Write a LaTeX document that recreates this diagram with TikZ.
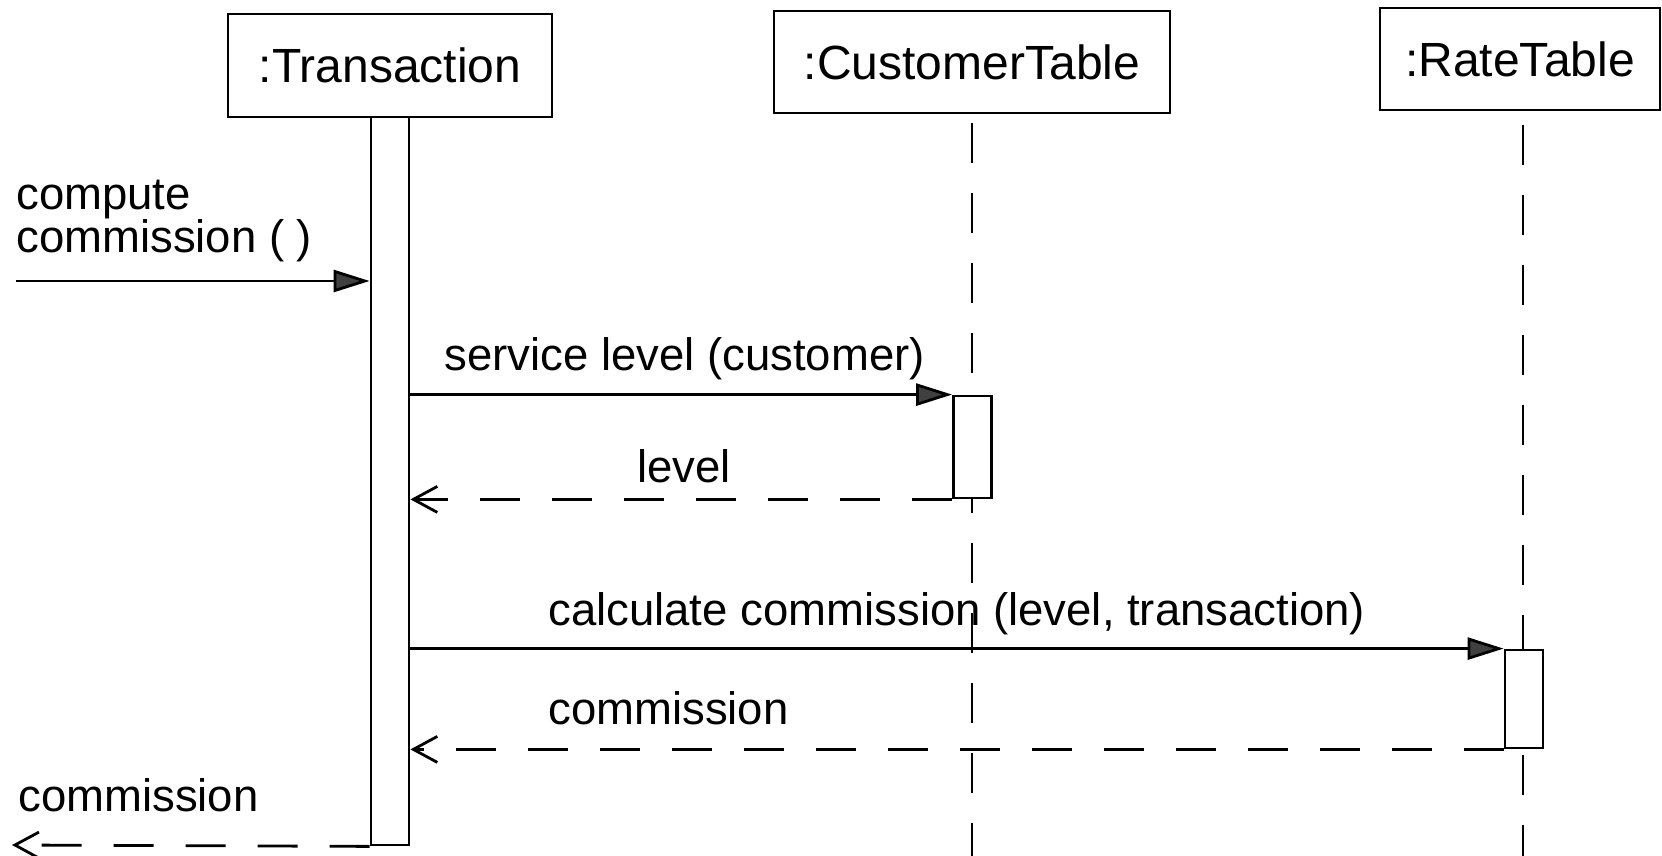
\documentclass[tikz,border=0pt]{standalone}
\usepackage{fontspec}
\setmainfont{Liberation Sans}
\usetikzlibrary{arrows.meta}
\begin{document}
\begin{tikzpicture}[x=0.5pt,y=-0.5pt,
  line width=1.4pt,
  actor/.style={draw, fill=white, inner sep=0pt, font=\fontsize{24}{28}\selectfont},
  actbar/.style={draw, fill=white, inner sep=0pt, minimum width=19pt},
  call/.style={-{Triangle[length=18pt,width=11pt,fill=black!75]}},
  ret/.style={-{Straight Barb[length=12pt,width=13pt]}, dash pattern=on 20pt off 16pt},
  lifeline/.style={dash pattern=on 20pt off 15pt},
  lbl/.style={inner sep=0pt, anchor=base west, font=\fontsize{22.75}{26}\selectfont}]
\path[use as bounding box, fill=white] (0,0) rectangle (1662,856);

% object boxes
\node[actor, minimum width=162pt, minimum height=51.5pt] (tr) at (390,65.5) {:Transaction};
\node[actor, minimum width=198pt, minimum height=51pt] (ct) at (972,62) {:CustomerTable};
\node[actor, minimum width=140pt, minimum height=51pt] (rt) at (1520,59) {:RateTable};

% lifeline ends
\coordinate (ctend) at (972,856);
\coordinate (rtstart) at (1523,125);
\coordinate (rtend) at (1523,856);
\draw[lifeline] ([yshift=-4.5pt]ct.south) -- (ctend);
\draw[lifeline] (rtstart) -- (rtend);

% activation bars
\node[actbar, minimum height=364pt] (tbar) at (390,481) {};
\node[actbar, minimum height=51pt] (sbox) at (972.5,447) {};
\node[actbar, minimum height=49pt] (rbox) at (1524,699) {};

% messages
\coordinate (in) at (16,281);
\draw[call] (in) -- (in -| tbar.west);
\draw[call] (tbar.east |- sbox.north) -- (sbox.north west);
\draw[ret] (sbox.south west) -- (tbar.east |- sbox.south);
\draw[call] (tbar.east |- rbox.north) -- (rbox.north west);
\draw[ret] (rbox.south west) -- (tbar.east |- rbox.south);
\coordinate (out) at (12,845);
\draw[ret] (tbar.south west) -- (out);

% labels
\node[lbl] (l1) at (15,210) {compute};
\node[lbl] (l2) at (15,252) {commission ( )};
\node[lbl] (l3) at (443,370) {service level (customer)};
\node[lbl] (l4) at (636,482) {level};
\node[lbl] (l5) at (547,625) {calculate commission (level, transaction)};
\node[lbl] (l6) at (547,724) {commission};
\node[lbl] (l7) at (17,811) {commission};
\end{tikzpicture}
\end{document}
